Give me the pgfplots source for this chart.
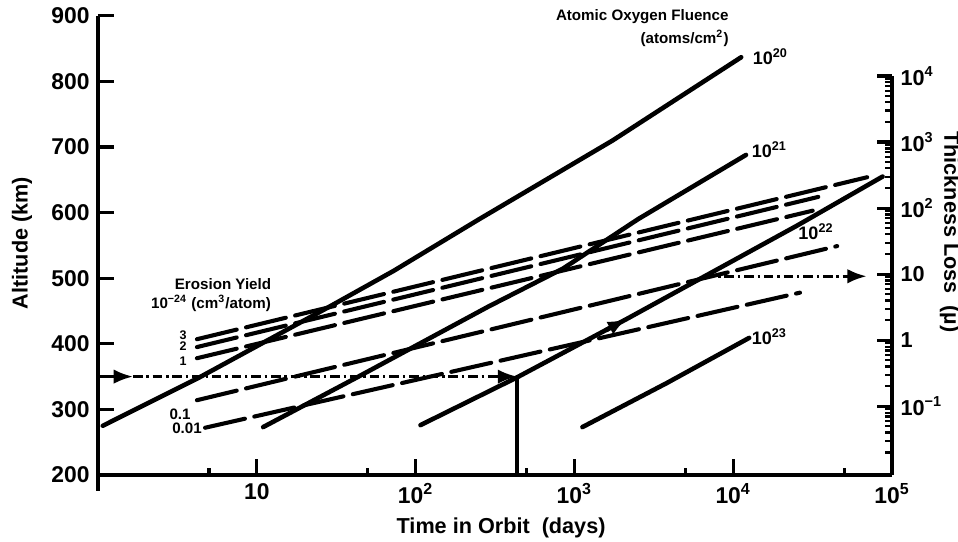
\documentclass[border=0pt]{standalone}
\usepackage{fontspec}
\setmainfont{Liberation Sans}
\usepackage{pgfplots}
\pgfplotsset{compat=1.18}
\usetikzlibrary{arrows.meta}

\tikzset{
  fluence/.style={black, line width=1.9pt, line cap=round, mark=none},
  yield/.style={black, line width=1.7pt, line cap=round, mark=none, dash pattern=on 17pt off 4pt},
  guide/.style={black, line width=1.2pt, mark=none, dash pattern=on 4pt off 1.6pt on 1pt off 1.6pt},
  small/.style={font=\bfseries\fontsize{6.3}{7}\selectfont},
  tiny/.style={font=\bfseries\fontsize{5.2}{6}\selectfont, inner sep=0.5pt},
  lab/.style={font=\bfseries\fontsize{7.5}{8}\selectfont},
}

\begin{document}
\begin{tikzpicture}
\useasboundingbox (-40.75pt,-27.86pt) rectangle (357.6pt,197.5pt);

% main axis: altitude vs time
\begin{axis}[
  scale only axis, width=330.2pt, height=190.9pt,
  xmode=log, xmin=1, xmax=1e5, ymin=200, ymax=900,
  axis x line*=bottom, axis y line*=left,
  axis line style={line width=1.6pt},
  tick align=inside,
  xtick={10,100,1000,10000,100000},
  xticklabels={10,10\textsuperscript{2},10\textsuperscript{3},10\textsuperscript{4},10\textsuperscript{5}},
  minor xtick={5,50,500,5000,50000},
  extra x ticks={1}, extra x tick labels={},
  extra x tick style={tick align=outside},
  ytick={200,300,...,900},
  major tick length=6.5pt, minor tick length=3pt,
  every tick/.style={black, line width=1.3pt},
  tick label style={font=\bfseries\fontsize{9.5}{11}\selectfont},
  /pgf/number format/assume math mode=true,
  clip=false,
]
% atomic oxygen fluence lines
\addplot[fluence] coordinates {(1.072,275) (4.365,349) (28.84,457) (72.44,511) (251.2,590) (1738,710) (11220,837)};
\addplot[fluence] coordinates {(10.96,273) (43.65,350) (288.4,457) (851.1,515) (2512,590) (12023,688)};
\addplot[fluence] coordinates {(107.2,276) (436.5,349) (2138,438) (6607,503) (25119,580) (87096,655)};
\addplot[fluence] coordinates {(1122,273) (3802,340) (12589,409)};
\addplot[fluence, -{Latex[length=8pt,width=6pt]}] coordinates {(1585,421) (2138,438)};

% erosion yield lines
\addplot[yield] coordinates {(4.198,407) (69660,654)};
\addplot[yield] coordinates {(4.198,395) (34277,624)};
\addplot[yield] coordinates {(4.198,378) (31623,603)};
\addplot[yield] coordinates {(4.198,314) (45082,549)};
\addplot[yield] coordinates {(4.721,272) (26303,478)};

% reading example
\addplot[black, line width=1.2pt, mark=none, -{Latex[length=8pt,width=6pt]}] coordinates {(1,350) (1.66,350)};
\addplot[guide, -{Latex[length=8pt,width=6pt]}] coordinates {(1.66,350) (435,350)};
\addplot[black, line width=1.5pt, mark=none] coordinates {(435,200) (435,350)};
\addplot[guide, -{Latex[length=8pt,width=6pt]}] coordinates {(6607,503) (69183,503)};

% texts
\node[small, anchor=east] at (rel axis cs:0.8048,0.9978) {Atomic Oxygen Fluence};
\node[small, anchor=east] at (rel axis cs:0.8048,0.952) {(atoms/cm\textsuperscript{2})};
\node[lab] at (rel axis cs:0.8468,0.9107) {10\textsuperscript{20}};
\node[lab] at (rel axis cs:0.8456,0.7081) {10\textsuperscript{21}};
\node[lab] at (rel axis cs:0.9043,0.5294) {10\textsuperscript{22}};
\node[lab] at (rel axis cs:0.8456,0.3007) {10\textsuperscript{23}};
\node[small] at (rel axis cs:0.1574,0.4161) {Erosion Yield};
\node[small] at (rel axis cs:0.1423,0.3747) {10\textsuperscript{−24} (cm\textsuperscript{3}/atom)};
\node[tiny] at (rel axis cs:0.1071,0.305) {3};
\node[tiny] at (rel axis cs:0.1071,0.281) {2};
\node[tiny] at (rel axis cs:0.1071,0.248) {1};
\node[small] at (rel axis cs:0.1033,0.1329) {0.1};
\node[small] at (rel axis cs:0.1121,0.1024) {0.01};
\node[font=\bfseries\fontsize{9}{10}\selectfont, rotate=90] at (rel axis cs:-0.0957,0.5054) {Altitude (km)};
\node[font=\bfseries\fontsize{9}{10}\selectfont] at (rel axis cs:0.5076,-0.1155) {Time in Orbit\ \ (days)};
\node[font=\bfseries\fontsize{9}{10}\selectfont, rotate=-90] at (rel axis cs:1.073,0.5294) {Thickness Loss\ \ (µ)};
\end{axis}

% right axis: thickness loss
\begin{axis}[
  scale only axis, width=330.2pt, height=165.9pt,
  xmode=log, xmin=1, xmax=1e5,
  ymode=log, ymin=0.00912, ymax=1e4,
  axis x line=none, axis y line*=right,
  axis line style={line width=1.6pt},
  tick align=inside,
  ytick={0.1,1,10,100,1000,10000},
  yticklabels={10\textsuperscript{−1},1,10,10\textsuperscript{2},10\textsuperscript{3},10\textsuperscript{4}},
  minor ytick={0.02,0.03,0.04,0.05,0.06,0.07,0.08,0.09,
    0.2,0.3,0.4,0.5,0.6,0.7,0.8,0.9,2,3,4,5,6,7,8,9,
    20,30,40,50,60,70,80,90,200,300,400,500,600,700,800,900,
    2000,3000,4000,5000,6000,7000,8000,9000},
  major tick length=6.2pt, minor tick length=3pt,
  every major tick/.style={black, line width=1.3pt},
  every minor tick/.style={black, line width=0.9pt},
  tick label style={font=\bfseries\fontsize{9}{10}\selectfont},
  clip=false,
]
\end{axis}
\end{tikzpicture}
\end{document}
